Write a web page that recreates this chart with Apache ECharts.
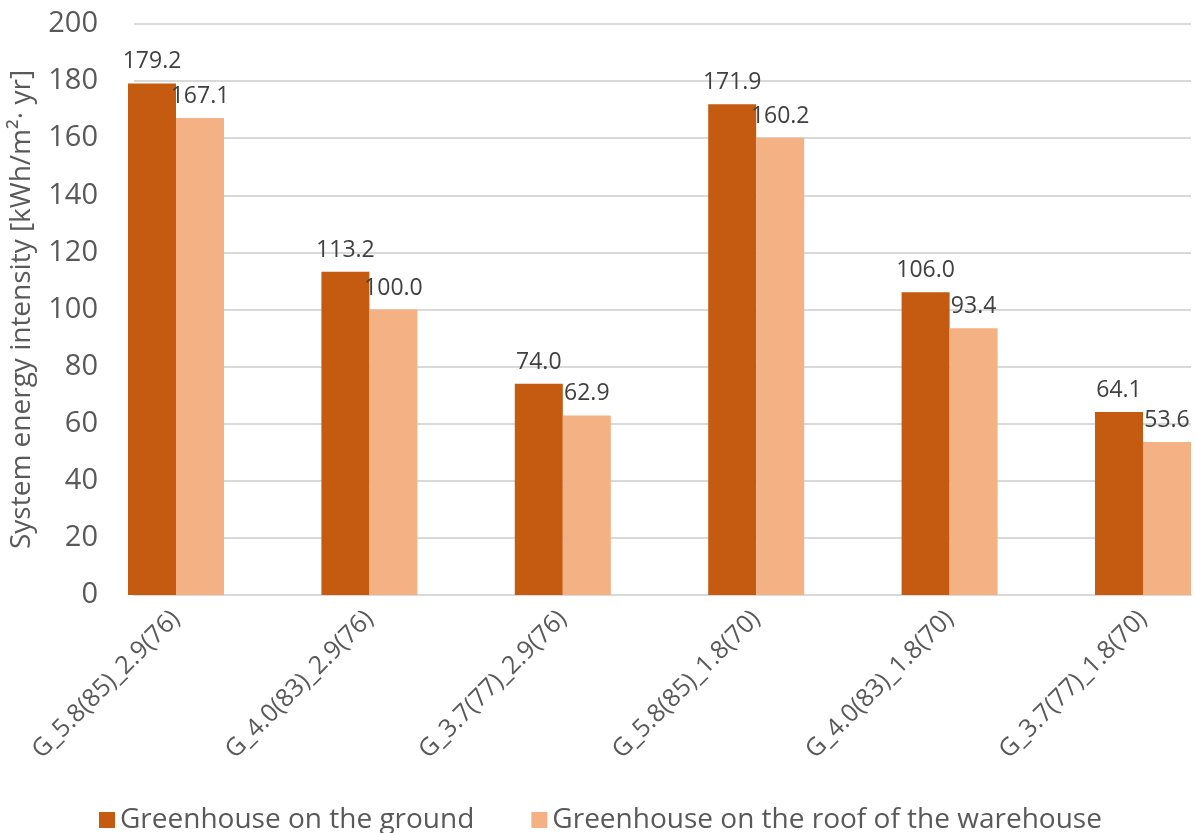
<!DOCTYPE html>
<html>
<head>
<meta charset="utf-8">
<script src="https://cdn.jsdelivr.net/npm/echarts@6/dist/echarts.min.js"></script>
<style>
  html, body { margin: 0; padding: 0; background: #fff; }
  #chart { width: 1196px; height: 833px; }
</style>
</head>
<body>
<div id="chart"></div>
<script>
const categories = [
  'G_5.8(85)_2.9(76)',
  'G_4.0(83)_2.9(76)',
  'G_3.7(77)_2.9(76)',
  'G_5.8(85)_1.8(70)',
  'G_4.0(83)_1.8(70)',
  'G_3.7(77)_1.8(70)'
]
const groundValues = [179.2, 113.2, 74.0, 171.9, 106.0, 64.1]
const roofValues = [167.1, 100.0, 62.9, 160.2, 93.4, 53.6]
const yTicks = { min: 0, max: 200, interval: 20 }

const font = '"Open Sans", "Noto Sans", sans-serif'
const gridTop = 24
const gridBottom = 238

const chart = echarts.init(document.getElementById('chart'))

const labelStyle = {
  show: true,
  position: 'top',
  distance: 10,
  color: '#404040',
  fontSize: 23,
  fontFamily: font,
  formatter: (p) => p.value.toFixed(1)
}

const option = {
  animation: false,
  textStyle: { fontFamily: font },
  grid: [
    // gridlines + y axis
    { left: 128, right: 5, top: gridTop, bottom: gridBottom },
    // bars, tick centres from first to last group
    { left: 176, right: 53, top: gridTop, bottom: gridBottom }
  ],
  legend: {
    left: 94,
    top: 801,
    itemWidth: 16,
    itemHeight: 16,
    itemGap: 57,
    icon: 'rect',
    textStyle: { color: '#595959', fontSize: 28, fontFamily: font },
    data: ['Greenhouse on the ground', 'Greenhouse on the roof of the warehouse']
  },
  xAxis: [
    {
      gridIndex: 0,
      type: 'category',
      data: categories,
      axisLine: { lineStyle: { color: '#d9d9d9', width: 2 } },
      axisTick: { show: false },
      axisLabel: { show: false }
    },
    {
      gridIndex: 1,
      type: 'category',
      boundaryGap: false,
      data: categories,
      axisLine: { show: false },
      axisTick: { show: false },
      axisLabel: {
        rotate: 45,
        margin: 20,
        color: '#595959',
        fontSize: 25,
        fontFamily: font
      }
    }
  ],
  yAxis: [
    {
      gridIndex: 0,
      type: 'value',
      min: yTicks.min,
      max: yTicks.max,
      interval: yTicks.interval,
      name: 'System energy intensity [kWh/m²· yr]',
      nameLocation: 'middle',
      nameRotate: 90,
      nameGap: 98,
      nameTextStyle: { color: '#595959', fontSize: 28, fontFamily: font },
      axisLine: { show: false },
      axisTick: { show: false },
      axisLabel: { color: '#595959', fontSize: 29, fontFamily: font, margin: 36 },
      splitLine: { lineStyle: { color: '#d9d9d9', width: 2 } }
    },
    {
      gridIndex: 1,
      type: 'value',
      min: yTicks.min,
      max: yTicks.max,
      interval: yTicks.interval,
      show: false,
      splitLine: { show: false }
    }
  ],
  series: [
    {
      name: 'Greenhouse on the ground',
      type: 'bar',
      xAxisIndex: 1,
      yAxisIndex: 1,
      data: groundValues,
      barWidth: 48,
      barGap: '0%',
      itemStyle: { color: '#C55A11' },
      label: labelStyle
    },
    {
      name: 'Greenhouse on the roof of the warehouse',
      type: 'bar',
      xAxisIndex: 1,
      yAxisIndex: 1,
      data: roofValues,
      barWidth: 48,
      barGap: '0%',
      itemStyle: { color: '#F4B183' },
      label: labelStyle
    }
  ]
}

chart.setOption(option)
window.addEventListener('resize', () => chart.resize())
</script>
</body>
</html>
